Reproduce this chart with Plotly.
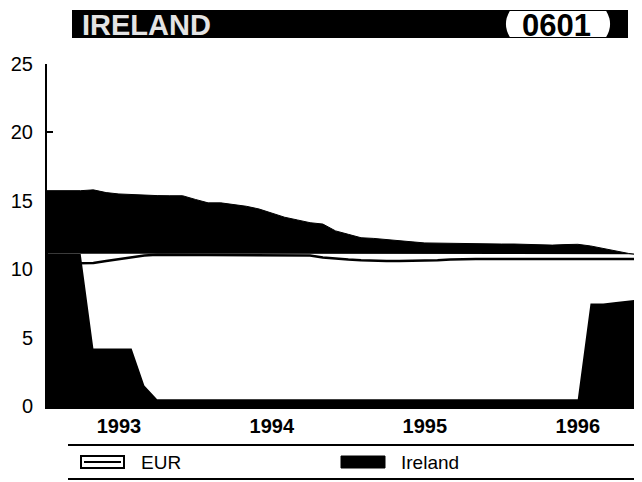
import plotly.graph_objects as go

# ---- data ----
months = [1993 + i / 12 for i in range(48)]
ireland = [15.74, 15.74, 15.74, 15.74, 15.8, 15.6, 15.5, 15.45, 15.4, 15.38, 15.37, 15.37,
           15.1, 14.85, 14.85, 14.75, 14.6, 14.4, 14.1, 13.8, 13.6, 13.4, 13.3, 12.8,
           12.55, 12.3, 12.25, 12.15, 12.1, 12.0, 11.92, 11.9, 11.9, 11.9, 11.88, 11.85,
           11.84, 11.84, 11.8, 11.78, 11.76, 11.8, 11.82, 11.7, 11.5, 11.35, 11.15, 11.05]
eur = [10.4, 10.4, 10.4, 10.4, 10.45, 10.6, 10.75, 10.9, 11.0, 11.05, 11.05, 11.05,
       11.05, 11.05, 11.05, 11.05, 11.05, 11.05, 11.05, 11.05, 11.05, 11.0, 10.85, 10.75,
       10.7, 10.65, 10.6, 10.6, 10.6, 10.6, 10.6, 10.65, 10.7, 10.75, 10.75, 10.75,
       10.75, 10.75, 10.75, 10.75, 10.75, 10.75, 10.75, 10.75, 10.75, 10.75, 10.75, 10.75]
eur_band_top = [11.15] * 46 + [11.1, 11.0]
eur_band_base = [11.15, 11.15, 11.15, 11.15, 4.2, 4.2, 4.2, 4.2, 1.5, 0.5, 0.5, 0.5,
                 0.5, 0.5, 0.5, 0.5, 0.5, 0.5, 0.5, 0.5, 0.5, 0.5, 0.5, 0.5,
                 0.5, 0.5, 0.5, 0.5, 0.5, 0.5, 0.5, 0.5, 0.5, 0.5, 0.5, 0.5,
                 0.5, 0.5, 0.5, 0.5, 0.5, 0.5, 0.5, 7.5, 7.5, 7.6, 7.7, 7.8]
year_ticks = [1993.5, 1994.5, 1995.5, 1996.5]
year_labels = ["1993", "1994", "1995", "1996"]
y_ticks = [0, 5, 10, 15, 20, 25]

# page body has an 8px margin: the figure starts at (8, 8) of the window
OFF = 8
W, H = 642 - OFF, 482 - OFF
L, R, T, B = 47, 642, 64, 406   # plot area in window pixels

def px(x):
    return (x - L) / (R - L)

def py(y):
    return (B - y) / (B - T)

fig = go.Figure()
fig.add_trace(go.Scatter(x=months, y=ireland, mode="lines", fill="tozeroy",
                         fillcolor="black", line=dict(color="black", width=1),
                         showlegend=False, hoverinfo="skip"))
fig.add_trace(go.Scatter(x=months, y=eur_band_base, mode="lines",
                         line=dict(color="rgba(0,0,0,0)", width=0),
                         showlegend=False, hoverinfo="skip"))
fig.add_trace(go.Scatter(x=months, y=eur_band_top, mode="lines", fill="tonexty",
                         fillcolor="white", line=dict(color="rgba(0,0,0,0)", width=0),
                         showlegend=False, hoverinfo="skip"))
fig.add_trace(go.Scatter(x=months, y=eur, mode="lines",
                         line=dict(color="black", width=2.5),
                         showlegend=False, name="EUR"))

font = "Liberation Sans, Arial, sans-serif"
shapes = []
ann = []
# title bar
shapes.append(dict(type="rect", xref="paper", yref="paper", x0=px(72), x1=px(628),
                   y0=py(38), y1=py(10), fillcolor="black", line=dict(width=0), layer="above"))
# pill
x0, x1, y0, y1 = px(502), px(614), py(37), py(11)
r = (x1 - x0) * 0.07
shapes.append(dict(type="path", xref="paper", yref="paper",
                   path=f"M {x0+r},{y0} L {x1-r},{y0} Q {x1},{(y0+y1)/2} {x1-r},{y1} L {x0+r},{y1} Q {x0},{(y0+y1)/2} {x0+r},{y0} Z",
                   fillcolor="white", line=dict(width=0), layer="above"))
ann.append(dict(text="IRELAND", xref="paper", yref="paper", x=px(80), y=py(25),
                xanchor="left", yanchor="middle", showarrow=False,
                font=dict(family=font, size=29, color="#e4e4e4", weight="bold")))
ann.append(dict(text="0601", xref="paper", yref="paper", x=px(556), y=py(25),
                xanchor="center", yanchor="middle", showarrow=False,
                font=dict(family=font, size=31, color="black", weight="bold")))
# legend frame lines
for yy in (445, 479):
    shapes.append(dict(type="line", xref="paper", yref="paper", x0=px(68), x1=px(642),
                       y0=py(yy), y1=py(yy), line=dict(color="black", width=2)))
# legend symbols
shapes.append(dict(type="rect", xref="paper", yref="paper", x0=px(81), x1=px(124),
                   y0=py(468), y1=py(456), fillcolor="white", line=dict(color="black", width=2)))
shapes.append(dict(type="line", xref="paper", yref="paper", x0=px(84), x1=px(121),
                   y0=py(462), y1=py(462), line=dict(color="black", width=2)))
shapes.append(dict(type="rect", xref="paper", yref="paper", x0=px(341), x1=px(385),
                   y0=py(468), y1=py(456), fillcolor="black", line=dict(color="black", width=1)))
ann.append(dict(text="EUR", xref="paper", yref="paper", x=px(139), y=py(462),
                xanchor="left", yanchor="middle", showarrow=False,
                font=dict(family=font, size=19, color="black")))
ann.append(dict(text="Ireland", xref="paper", yref="paper", x=px(399), y=py(462),
                xanchor="left", yanchor="middle", showarrow=False,
                font=dict(family=font, size=19, color="black")))

fig.update_layout(
    width=W, height=H,
    margin=dict(l=L - OFF, r=W + OFF - R, t=T - OFF, b=H + OFF - B),
    paper_bgcolor="white", plot_bgcolor="white",
    shapes=shapes, annotations=ann,
    xaxis=dict(range=[1993.03, 1996.92], tickvals=year_ticks, ticktext=year_labels,
               showgrid=False, zeroline=False, ticks="", showline=True,
               linecolor="black", linewidth=3, ticklabelstandoff=0,
               tickfont=dict(family=font, size=20, color="black", weight="bold")),
    yaxis=dict(range=[0, 25], tickvals=y_ticks, showgrid=False, zeroline=False,
               ticks="inside", ticklen=6, tickwidth=2, tickcolor="black",
               showline=True, linecolor="black", linewidth=2, ticklabelstandoff=8,
               tickfont=dict(family=font, size=20, color="black")),
)

fig.write_html("out.html")
